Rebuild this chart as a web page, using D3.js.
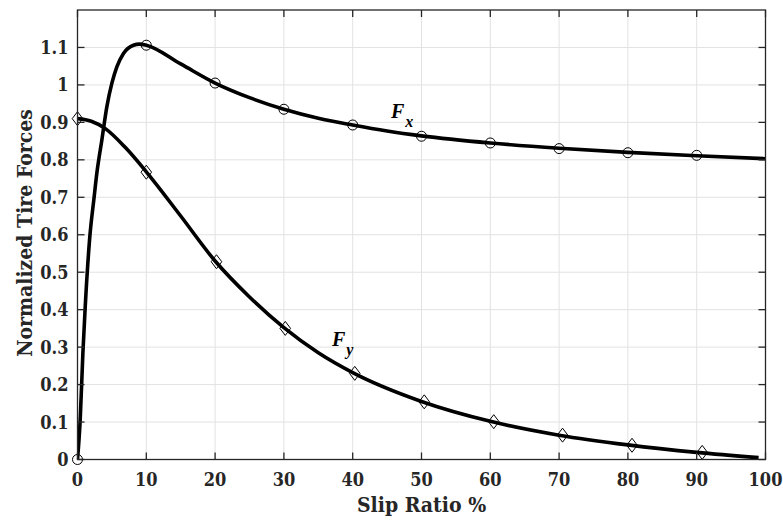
<!DOCTYPE html>
<html>
<head>
<meta charset="utf-8">
<script src="https://cdn.jsdelivr.net/npm/d3@7"></script>
<style>
  html, body { margin: 0; padding: 0; background: #fff; }
  svg { display: block; }
</style>
</head>
<body>
<svg id="chart" width="783" height="522"></svg>
<script>
// ---- data ----
const fxCurveSlip = [0, 0.39, 0.78, 1.12, 1.75, 2.42, 2.81, 3.54, 4.27, 4.99, 5.72, 6.68, 8.13, 9, 10, 15, 20, 25, 30, 35, 40, 45, 50, 60, 70, 80, 90, 100];
const fxCurveVal  = [0, 0.105, 0.283, 0.407, 0.586, 0.701, 0.764, 0.853, 0.942, 1.004, 1.048, 1.084, 1.106, 1.109, 1.106, 1.056, 1.005, 0.966, 0.935, 0.911, 0.893, 0.877, 0.864, 0.845, 0.831, 0.820, 0.811, 0.803];
const fyCurveSlip = [0, 2, 4, 7, 10, 15, 20, 25, 30, 35, 40, 50, 60, 70, 80, 90, 99];
const fyCurveVal  = [0.910, 0.903, 0.884, 0.832, 0.768, 0.650, 0.530, 0.434, 0.352, 0.285, 0.232, 0.155, 0.102, 0.065, 0.039, 0.019, 0.005];
const fxMarkSlip = [0, 10, 20, 30, 40, 50, 60, 70, 80, 90];
const fxMarkVal  = [0, 1.106, 1.005, 0.935, 0.893, 0.863, 0.845, 0.830, 0.819, 0.812];
const fyMarkSlip = [0, 10, 20.2, 30.2, 40.3, 50.4, 60.5, 70.5, 80.6, 90.8];
const fyMarkVal  = [0.910, 0.767, 0.528, 0.350, 0.230, 0.154, 0.101, 0.065, 0.038, 0.019];
const xTicks = [0, 10, 20, 30, 40, 50, 60, 70, 80, 90, 100];
const yTicks = [0, 0.1, 0.2, 0.3, 0.4, 0.5, 0.6, 0.7, 0.8, 0.9, 1, 1.1];
const xLabel = "Slip Ratio %";
const yLabel = "Normalized Tire Forces";

// ---- layout ----
const svg = d3.select("#chart");
const L = 77.5, R = 765.5, T = 10, B = 459.5;
const x = d3.scaleLinear().domain([0, 100]).range([L, R]);
const y = d3.scaleLinear().domain([0, 1.2]).range([B, T]);
const axisColor = "#262626";
const tickFont = "'DejaVu Serif Condensed', 'DejaVu Serif', serif";

// grid
const grid = svg.append("g");
grid.selectAll(".gx").data(xTicks.slice(1, -1)).join("line")
  .attr("x1", d => x(d)).attr("x2", d => x(d)).attr("y1", T).attr("y2", B)
  .attr("stroke", "#e2e2e2").attr("stroke-width", 1);
grid.selectAll(".gy").data(yTicks.slice(1)).join("line")
  .attr("x1", L).attr("x2", R).attr("y1", d => y(d)).attr("y2", d => y(d))
  .attr("stroke", "#e2e2e2").attr("stroke-width", 1);

// clip
svg.append("clipPath").attr("id", "clip").append("rect")
  .attr("x", L).attr("y", T).attr("width", R - L).attr("height", B - T);

const line = d3.line().x(d => x(d[0])).y(d => y(d[1])).curve(d3.curveMonotoneX);
const fxData = fxCurveSlip.map((s, i) => [s, fxCurveVal[i]]);
const fyData = fyCurveSlip.map((s, i) => [s, fyCurveVal[i]]);

const plot = svg.append("g").attr("clip-path", "url(#clip)");
plot.append("path").datum(fxData).attr("d", line)
  .attr("fill", "none").attr("stroke", "#000").attr("stroke-width", 3.6).attr("stroke-linejoin", "round");
plot.append("path").datum(fyData).attr("d", line)
  .attr("fill", "none").attr("stroke", "#000").attr("stroke-width", 3.6).attr("stroke-linejoin", "round");

// markers
svg.append("g").selectAll("circle").data(fxMarkSlip.map((s, i) => [s, fxMarkVal[i]])).join("circle")
  .attr("cx", d => x(d[0])).attr("cy", d => y(d[1])).attr("r", 5)
  .attr("fill", "none").attr("stroke", "#000").attr("stroke-width", 1);
svg.append("g").selectAll("path").data(fyMarkSlip.map((s, i) => [s, fyMarkVal[i]])).join("path")
  .attr("d", d => {
    const cx = x(d[0]), cy = y(d[1]), w = 5.3, h = 7;
    return `M${cx},${cy - h}L${cx + w},${cy}L${cx},${cy + h}L${cx - w},${cy}Z`;
  })
  .attr("fill", "none").attr("stroke", "#000").attr("stroke-width", 1);

// frame + ticks
const axes = svg.append("g");
axes.append("rect").attr("x", L).attr("y", T).attr("width", R - L).attr("height", B - T)
  .attr("fill", "none").attr("stroke", axisColor).attr("stroke-width", 1.3);
const tl = 7;
axes.selectAll(".tb").data(xTicks).join("line")
  .attr("x1", d => x(d)).attr("x2", d => x(d)).attr("y1", B).attr("y2", B - tl)
  .attr("stroke", axisColor).attr("stroke-width", 1.3);
axes.selectAll(".tt").data(xTicks).join("line")
  .attr("x1", d => x(d)).attr("x2", d => x(d)).attr("y1", T).attr("y2", T + tl)
  .attr("stroke", axisColor).attr("stroke-width", 1.3);
axes.selectAll(".tlft").data(yTicks).join("line")
  .attr("x1", L).attr("x2", L + tl).attr("y1", d => y(d)).attr("y2", d => y(d))
  .attr("stroke", axisColor).attr("stroke-width", 1.3);
axes.selectAll(".trgt").data(yTicks).join("line")
  .attr("x1", R).attr("x2", R - tl).attr("y1", d => y(d)).attr("y2", d => y(d))
  .attr("stroke", axisColor).attr("stroke-width", 1.3);

// tick labels
axes.selectAll(".xl").data(xTicks).join("text")
  .attr("x", d => x(d)).attr("y", 486)
  .attr("text-anchor", "middle")
  .attr("font-family", tickFont).attr("font-stretch", "condensed").attr("font-weight", "bold").attr("font-size", 18)
  .attr("fill", axisColor).text(d => d3.format("~g")(d));
axes.selectAll(".yl").data(yTicks).join("text")
  .attr("x", 68.5).attr("y", d => y(d)).attr("dy", "0.36em")
  .attr("text-anchor", "end")
  .attr("font-family", tickFont).attr("font-stretch", "condensed").attr("font-weight", "bold").attr("font-size", 18)
  .attr("fill", axisColor).text(d => d3.format("~g")(d));

// axis titles
svg.append("text").attr("x", (L + R) / 2).attr("y", 512)
  .attr("text-anchor", "middle")
  .attr("font-family", tickFont).attr("font-stretch", "condensed").attr("font-weight", "bold").attr("font-size", 21)
  .attr("fill", axisColor).text(xLabel);
svg.append("text").attr("transform", `translate(31.5,233) rotate(-90)`)
  .attr("text-anchor", "middle")
  .attr("font-family", tickFont).attr("font-stretch", "condensed").attr("font-weight", "bold").attr("font-size", 21)
  .attr("fill", axisColor).text(yLabel);

// curve labels
function curveLabel(px, py, sub) {
  const t = svg.append("text").attr("x", px).attr("y", py)
    .attr("font-family", "'Liberation Serif', 'Times New Roman', serif")
    .attr("font-weight", "bold").attr("font-style", "italic").attr("fill", "#000");
  t.append("tspan").attr("font-size", 20).text("F");
  t.append("tspan").attr("font-size", 16).attr("dy", 9).attr("dx", 1).text(sub);
}
curveLabel(391, 118, "x");
curveLabel(332, 346, "y");
</script>
</body>
</html>
